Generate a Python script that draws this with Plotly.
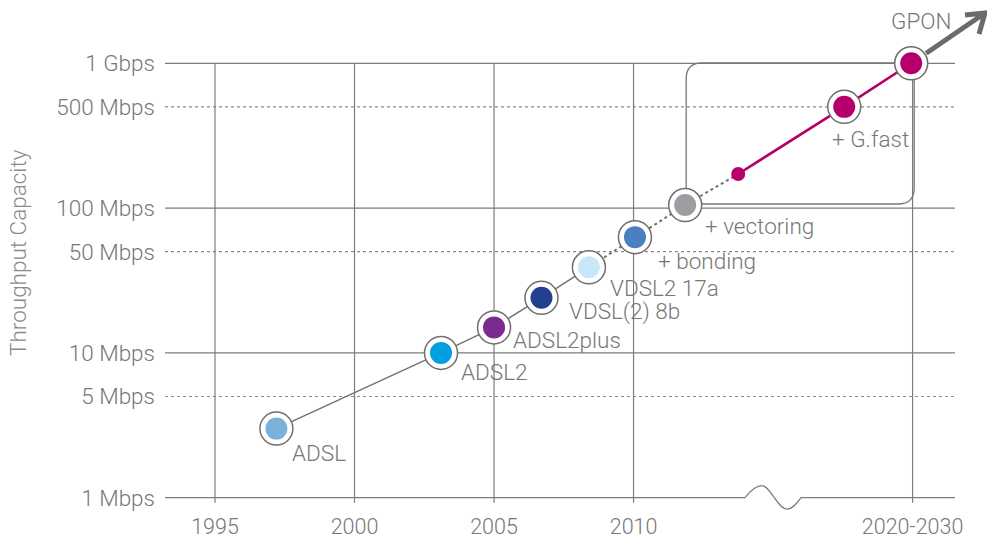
import math
import plotly.graph_objects as go

# ---------------- data ----------------
technologies = ["ADSL", "ADSL2", "ADSL2plus", "VDSL(2) 8b", "VDSL2 17a",
                "+ bonding", "+ vectoring", "", "+ G.fast", "GPON"]
years = [1997.2, 2003.1, 2005.0, 2006.7, 2008.4, 2010.05, 2011.85, 2013.75, 2017.55, 2019.95]
throughput_mbps = [3.0, 10, 15, 24, 39, 63, 105, 172, 500, 1000]
marker_colors = ["#7bb1d8", "#009fe0", "#7b2a8f", "#233f8f", "#c8e7f8",
                 "#4a7fc0", "#9d9ea2", "#b5006b", "#b5006b", "#b5006b"]

x_tick_vals = [1995, 2000, 2005, 2010, 2020]
x_tick_text = ["1995", "2000", "2005", "2010", "2020-2030"]
y_tick_vals = [1, 5, 10, 50, 100, 500, 1000]
y_tick_text = ["1 Mbps", "5 Mbps", "10 Mbps", "50 Mbps", "100 Mbps", "500 Mbps", "1 Gbps"]
y_major = [1, 10, 100, 1000]
y_minor = [5, 50, 500]

# label offsets (px) from marker centre: (dx to left edge, dy downward)
label_dx = [14, 17.6, 17.4, 25.4, 19.3, 20.7, 18.3, 0, -14.3, 10]
label_dy = [24, 19, 12.5, 13.5, 20.5, 23.7, 21, 0, 32.5, -42]

# ---------------- layout geometry ----------------
W, H = 987, 538
ML, MR, MT, MB = 165, 32, 0, 30
PW, PH = W - ML - MR, H - MT - MB
XMIN, XMAX = 1993.208, 2021.52
YMIN, YMAX = -0.0711, 3.437

TXT = "#777777"
GRID = "#7c7c7c"
FONT = "Roboto"
FS = 22.5


def xp(year):
    return (year - XMIN) / (XMAX - XMIN)


def yp(v):
    return (math.log10(v) - YMIN) / (YMAX - YMIN)


def xpx(year):
    return ML + xp(year) * PW


def ypx(v):
    return MT + (1 - yp(v)) * PH


def P(px, py):
    return f"{(px - ML) / PW:.5f},{1 - (py - MT) / PH:.5f}"


fig = go.Figure()

# connecting lines
fig.add_trace(go.Scatter(x=years[0:5], y=throughput_mbps[0:5], mode="lines",
                         line=dict(color="#707070", width=1.4), hoverinfo="skip"))
fig.add_trace(go.Scatter(x=years[4:8], y=throughput_mbps[4:8], mode="lines",
                         line=dict(color="#707070", width=2, dash="dot"), hoverinfo="skip"))
fig.add_trace(go.Scatter(x=years[7:10], y=throughput_mbps[7:10], mode="lines",
                         line=dict(color="#b5006b", width=2.6), hoverinfo="skip"))

ring_idx = [i for i, t in enumerate(technologies) if t]
fig.add_trace(go.Scatter(x=[years[i] for i in ring_idx], y=[throughput_mbps[i] for i in ring_idx],
                         mode="markers",
                         marker=dict(size=33, color="white", opacity=1,
                                     line=dict(color="#6f6f6f", width=1.5)),
                         hoverinfo="skip"))
fig.add_trace(go.Scatter(x=years, y=throughput_mbps, mode="markers",
                         text=technologies,
                         marker=dict(size=[22] * 7 + [14] + [22] * 2, color=marker_colors,
                                     opacity=1, line=dict(width=0)),
                         hovertemplate="%{text}: %{y} Mbps<extra></extra>"))

shapes = []
# horizontal grid
for v in y_major[1:]:
    shapes.append(dict(type="line", xref="paper", yref="paper", x0=0, x1=1, y0=yp(v), y1=yp(v),
                       line=dict(color=GRID, width=1.2), layer="below"))
for v in y_minor:
    shapes.append(dict(type="line", xref="paper", yref="paper", x0=0, x1=0.9985, y0=yp(v), y1=yp(v),
                       line=dict(color="#8a8a8a", width=1.2, dash="dot"), layer="below"))
# vertical grid
for yr in x_tick_vals:
    shapes.append(dict(type="line", xref="x", yref="paper", x0=yr, x1=yr,
                       y0=yp(y_major[-1]), y1=yp(y_major[0]) - 5 / PH,
                       line=dict(color=GRID, width=1.2), layer="below"))
# x axis line with break squiggle
y0 = ypx(y_major[0])
squig = (f"M {P(ML, y0)} L {P(745, y0)} C {P(752, y0 - 9)} {P(757, y0 - 12)} {P(762, y0 - 12)} "
         f"C {P(770, y0 - 12)} {P(778, y0 + 11.5)} {P(787, y0 + 11.5)} "
         f"C {P(793, y0 + 11.5)} {P(797, y0 + 5)} {P(801, y0)} L {P(ML + PW, y0)}")
shapes.append(dict(type="path", xref="paper", yref="paper", path=squig,
                   line=dict(color=GRID, width=1.2), layer="below"))
# rounded box around the future technologies
bx0, bx1 = xpx(years[6]) + 1, xpx(years[9]) + 3
by0, by1 = ypx(throughput_mbps[9]) - 0.5, ypx(throughput_mbps[6]) - 1
r = 16
box = (f"M {P(bx0 + r, by0)} L {P(bx1 - r, by0)} Q {P(bx1, by0)} {P(bx1, by0 + r)} "
       f"L {P(bx1, by1 - r)} Q {P(bx1, by1)} {P(bx1 - r, by1)} L {P(bx0 + r, by1)} "
       f"Q {P(bx0, by1)} {P(bx0, by1 - r)} L {P(bx0, by0 + r)} Q {P(bx0, by0)} {P(bx0 + r, by0)} Z")
shapes.append(dict(type="path", xref="paper", yref="paper", path=box,
                   line=dict(color="#777777", width=1.3), layer="below"))
# arrow leaving GPON
gx, gy = xpx(years[9]), ypx(throughput_mbps[9])
tip = (985, 13)
arrow = (f"M {P(gx + 15, gy - 10)} L {P(*tip)} M {P(965, 15)} L {P(*tip)} L {P(979, 34)}")
shapes.append(dict(type="path", xref="paper", yref="paper", path=arrow,
                   line=dict(color="#6b6b6b", width=5), layer="above"))

annotations = []
for i, t in enumerate(technologies):
    if not t:
        continue
    annotations.append(dict(x=years[i], y=math.log10(throughput_mbps[i]), xref="x", yref="y",
                            text=t, showarrow=False,
                            xanchor="center" if t == "GPON" else "left", yanchor="middle",
                            xshift=label_dx[i], yshift=-label_dy[i],
                            font=dict(family=FONT, size=FS, color=TXT, weight=300)))
annotations.append(dict(x=(18 - ML) / PW, y=1 - (253 - MT) / PH, xref="paper", yref="paper",
                        text="Throughput Capacity", textangle=-90, showarrow=False,
                        xanchor="center", yanchor="middle",
                        font=dict(family=FONT, size=FS, color="#8a8a8a", weight=300)))

fig.update_layout(
    width=W, height=H,
    margin=dict(l=ML, r=MR, t=MT, b=MB, pad=0, autoexpand=False),
    paper_bgcolor="white", plot_bgcolor="white",
    showlegend=False,
    shapes=shapes, annotations=annotations,
    font=dict(family=FONT, color=TXT, weight=300),
    xaxis=dict(range=[XMIN, XMAX], tickvals=x_tick_vals, ticktext=x_tick_text,
               showgrid=False, zeroline=False, showline=False, ticks="",
               tickfont=dict(family=FONT, size=21.5, color=TXT, weight=300),
               ticklabelstandoff=3, fixedrange=True),
    yaxis=dict(type="log", range=[YMIN, YMAX], tickvals=y_tick_vals, ticktext=y_tick_text,
               showgrid=False, zeroline=False, showline=False, ticks="",
               tickfont=dict(family=FONT, size=FS, color=TXT, weight=300),
               ticklabelstandoff=9, fixedrange=True),
)

fig.write_html("out.html", config={"displayModeBar": False},
               post_script="document.body.style.margin='0';"
                           "document.documentElement.style.overflow='hidden';"
                           "document.body.style.overflow='hidden';")
